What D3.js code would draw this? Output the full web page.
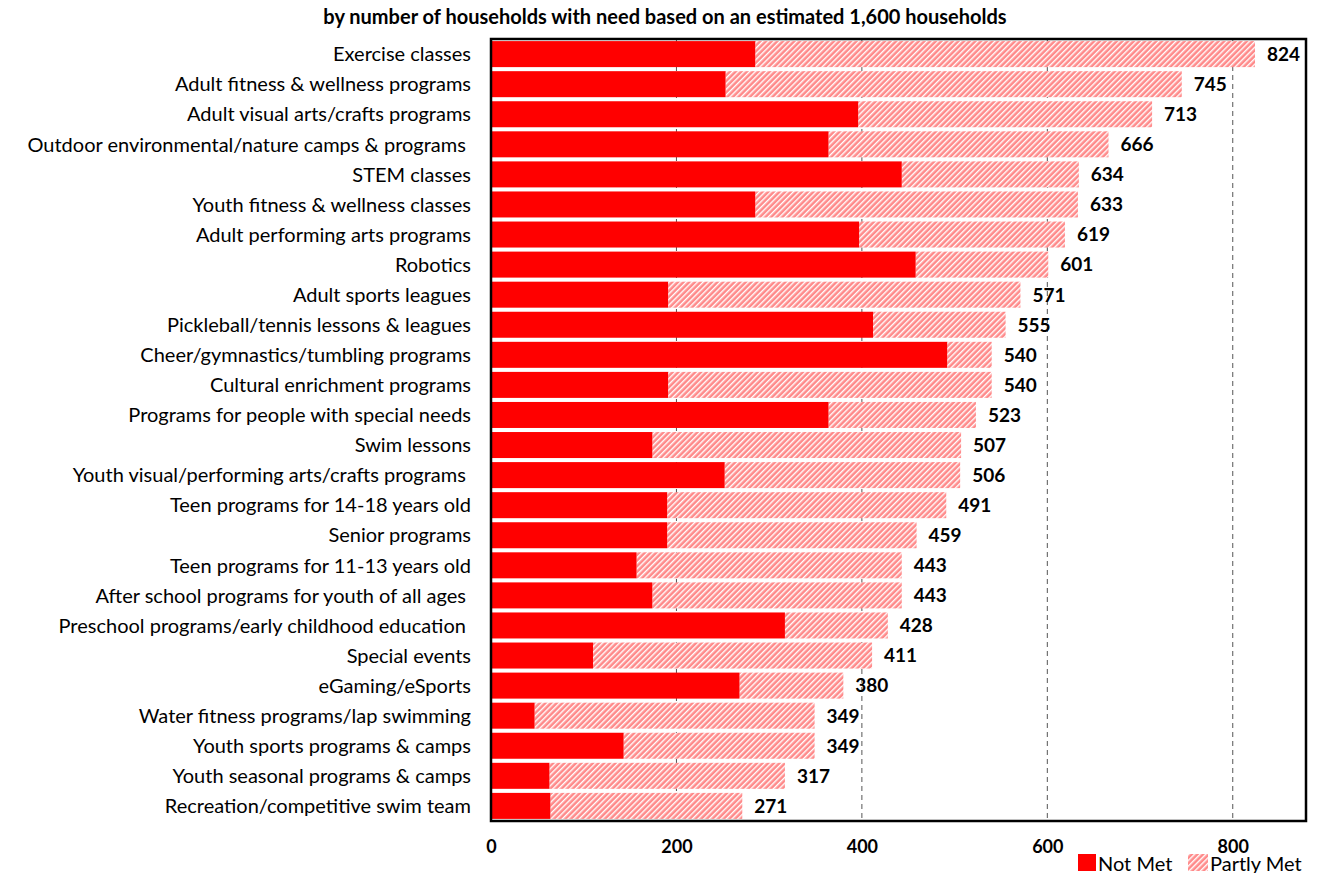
<!DOCTYPE html>
<html><head><meta charset="utf-8">
<script src="https://cdn.jsdelivr.net/npm/d3@7"></script>
<style>body{margin:0;background:#fff}text{font-family:Lato,"Open Sans",sans-serif}</style>
</head><body><svg id="c" width="1317" height="873"></svg>
<script>
const categories=["Exercise classes","Adult fitness & wellness programs","Adult visual arts/crafts programs","Outdoor environmental/nature camps & programs ","STEM classes","Youth fitness & wellness classes","Adult performing arts programs","Robotics","Adult sports leagues","Pickleball/tennis lessons & leagues","Cheer/gymnastics/tumbling programs","Cultural enrichment programs","Programs for people with special needs","Swim lessons","Youth visual/performing arts/crafts programs ","Teen programs for 14-18 years old","Senior programs","Teen programs for 11-13 years old","After school programs for youth of all ages ","Preschool programs/early childhood education ","Special events","eGaming/eSports","Water fitness programs/lap swimming","Youth sports programs & camps","Youth seasonal programs & camps","Recreation/competitive swim team"];
const notMet=[285,253,396,364,443,285,397,458,191,412,492,191,364,174,252,190,190,157,174,317,110,268,47,143,63,64];
const totals=[824,745,713,666,634,633,619,601,571,555,540,540,523,507,506,491,459,443,443,428,411,380,349,349,317,271];
const xTicks=[0,200,400,600,800];
const title="by number of households with need based on an estimated 1,600 households";
const legendLabels=["Not Met","Partly Met"];

const svg=d3.select("#c");
const L=491,R=1306,T=39,B=821;
const x=d3.scaleLinear().domain([0,879]).range([L,R]);
const y=d3.scaleBand().domain(categories).range([T,B]).paddingInner(0.135).paddingOuter(0.07);

const defs=svg.append("defs");
const pat=defs.append("pattern").attr("id","hatch").attr("patternUnits","userSpaceOnUse").attr("width",4).attr("height",4).attr("patternTransform","rotate(45)");
pat.append("rect").attr("width",4).attr("height",4).attr("fill","#ff8a8a");
pat.append("rect").attr("x",0).attr("width",1.4).attr("height",4).attr("fill","#ffffff");

svg.append("text").attr("x",665).attr("y",24).attr("text-anchor","middle").attr("font-weight","bold").attr("font-size",20).text(title);

// gridlines
svg.append("g").selectAll("line").data(xTicks.slice(1)).join("line")
 .attr("x1",d=>x(d)).attr("x2",d=>x(d)).attr("y1",T).attr("y2",B)
 .attr("stroke","#555").attr("stroke-width",1).attr("stroke-dasharray","5,4");

const g=svg.append("g");
g.selectAll(".pm").data(categories).join("rect")
 .attr("x",(d,i)=>x(notMet[i])).attr("y",d=>y(d)).attr("width",(d,i)=>x(totals[i])-x(notMet[i])).attr("height",y.bandwidth())
 .attr("fill","url(#hatch)");
g.selectAll(".nm").data(categories).join("rect")
 .attr("x",x(0)).attr("y",d=>y(d)).attr("width",(d,i)=>x(notMet[i])-x(0)).attr("height",y.bandwidth())
 .attr("fill","#ff0000");

g.selectAll(".v").data(categories).join("text")
 .attr("x",(d,i)=>x(totals[i])+12).attr("y",d=>y(d)+y.bandwidth()/2).attr("dy","0.36em")
 .attr("font-weight","bold").attr("font-size",19).text((d,i)=>totals[i]);

g.selectAll(".c").data(categories).join("text")
 .attr("x",471).attr("y",d=>y(d)+y.bandwidth()/2).attr("dy","0.36em").attr("text-anchor","end")
 .style("white-space","pre").attr("font-size",20).text(d=>d);

svg.append("rect").attr("x",L).attr("y",T).attr("width",R-L).attr("height",B-T).attr("fill","none").attr("stroke","#000").attr("stroke-width",2.5);

const ax=svg.append("g").attr("transform",`translate(0,${B})`).call(d3.axisBottom(x).tickValues(xTicks).tickSize(0).tickPadding(19));
ax.select(".domain").remove();
ax.selectAll("text").attr("font-size",18).attr("font-weight","bold").attr("fill","#000").style("font-family","Lato,sans-serif");

const lg=svg.append("g");
lg.append("rect").attr("x",1078).attr("y",854).attr("width",18).attr("height",17).attr("fill","#ff0000");
lg.append("text").attr("x",1098).attr("y",871).attr("font-size",20).text(legendLabels[0]);
lg.append("rect").attr("x",1188).attr("y",854).attr("width",20).attr("height",17).attr("fill","url(#hatch)");
lg.append("text").attr("x",1210).attr("y",871).attr("font-size",20).text(legendLabels[1]);
</script></body></html>
